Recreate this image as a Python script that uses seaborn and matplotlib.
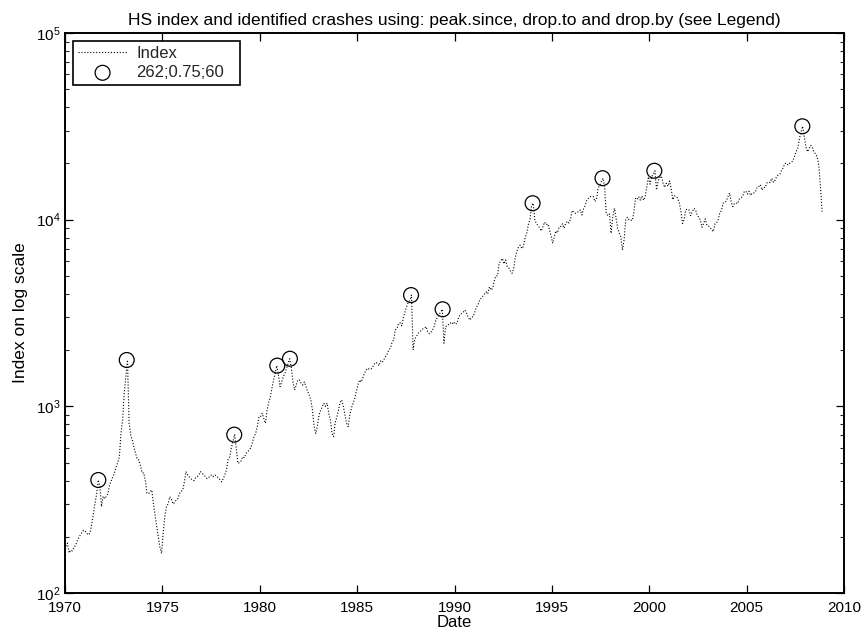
import numpy as np
import pandas as pd
import matplotlib
matplotlib.use("Agg")
import matplotlib.pyplot as plt
import seaborn as sns
from matplotlib.ticker import LogLocator, NullFormatter, LogFormatterSciNotation, FixedLocator

# ---------------- data ----------------
start_year = 1970  # monthly observations, Jan 1970 .. Nov 2008

index_values = [
    # 1970
    178, 185, 164, 170, 168, 175, 180, 190, 198, 205, 212, 217,
    # 1971
    214, 208, 205, 210, 235, 265, 303, 340, 403, 371, 290, 330,
    # 1972
    320, 330, 342, 380, 400, 420, 440, 475, 500, 537, 720, 843,
    # 1973
    1175, 1450, 1771, 813, 700, 660, 600, 560, 520, 515, 480, 440,
    # 1974
    440, 400, 343, 340, 350, 356, 300, 260, 227, 200, 175, 163,
    # 1975
    210, 257, 290, 300, 328, 320, 300, 305, 315, 320, 340, 350,
    # 1976
    356, 390, 447, 430, 420, 410, 403, 400, 415, 420, 430, 447,
    # 1977
    437, 430, 420, 410, 415, 425, 430, 420, 428, 420, 415, 404,
    # 1978
    394, 410, 430, 456, 520, 537, 600, 650, 705, 600, 495, 500,
    # 1979
    510, 537, 530, 560, 570, 583, 600, 640, 690, 716, 780, 880,
    # 1980
    880, 918, 860, 811, 950, 1050, 1127, 1250, 1384, 1500, 1652, 1474,
    # 1981
    1274, 1350, 1442, 1500, 1600, 1700, 1799, 1600, 1350, 1222, 1300, 1384,
    # 1982
    1384, 1330, 1300, 1350, 1274, 1200, 1150, 1082, 950, 778, 716, 784,
    # 1983
    900, 950, 995, 1038, 1000, 1040, 918, 850, 716, 688, 820, 875,
    # 1984
    950, 1050, 1082, 1000, 900, 811, 778, 900, 980, 1038, 1100, 1200,
    # 1985
    1300, 1384, 1350, 1420, 1500, 1566, 1600, 1580, 1580, 1620, 1680, 1720,
    # 1986
    1700, 1650, 1750, 1720, 1780, 1845, 1900, 2000, 2050, 2200, 2265, 2568,
    # 1987
    2600, 2785, 2800, 2700, 3000, 3200, 3420, 3600, 3700, 3945, 2005, 2303,
    # 1988
    2360, 2450, 2500, 2550, 2600, 2620, 2673, 2500, 2450, 2500, 2566, 2687,
    # 1989
    2900, 3000, 3100, 3200, 3311, 2180, 2673, 2700, 2750, 2800, 2750, 2837,
    # 1990
    2750, 2785, 3000, 3100, 3150, 3200, 3280, 3150, 3000, 2897, 3000, 3025,
    # 1991
    3200, 3400, 3500, 3715, 3800, 3900, 4000, 4100, 4000, 4375, 4200, 4297,
    # 1992
    4700, 5000, 5000, 5835, 6000, 6200, 5800, 6080, 5600, 5500, 5300, 5160,
    # 1993
    5500, 6300, 6800, 7165, 7300, 7000, 7200, 8000, 8450, 9400, 10000, 11888,
    # 1994
    12250, 9950, 9500, 9300, 9000, 8700, 9200, 9700, 9400, 9500, 8810, 8191,
    # 1995
    7470, 8100, 8700, 8500, 9160, 9200, 9500, 9000, 9550, 9800, 9600, 10073,
    # 1996
    11200, 11000, 10810, 11000, 11000, 11270, 10600, 11400, 11900, 12700, 13000, 13290,
    # 1997
    13290, 13300, 12500, 12900, 14800, 15200, 16000, 16680, 15000, 10810, 10500, 10723,
    # 1998
    8450, 10380, 11500, 10300, 9000, 8500, 8110, 6870, 7800, 10000, 10300, 9950,
    # 1999
    9950, 9900, 10900, 13000, 12800, 13290, 12700, 13400, 12700, 13300, 15030, 16962,
    # 2000
    15500, 17000, 17500, 18280, 14420, 16150, 16800, 17100, 15650, 14900, 15670, 15096,
    # 2001
    16100, 14700, 12800, 13400, 13290, 13040, 12300, 11100, 9550, 10000, 11280, 11397,
    # 2002
    11270, 10500, 11000, 11500, 11300, 10600, 10300, 9950, 9100, 9550, 10100, 9321,
    # 2003
    9250, 9100, 8800, 8630, 9500, 9600, 10000, 10900, 11200, 12250, 12300, 12576,
    # 2004
    13300, 13900, 12400, 11750, 12200, 12300, 12200, 12900, 13100, 13290, 14100, 14230,
    # 2005
    13700, 14200, 13500, 13900, 13900, 14200, 14900, 15030, 15400, 14400, 14900, 14876,
    # 2006
    15750, 15900, 15800, 16650, 15850, 16270, 16980, 17400, 17550, 18320, 18960, 19965,
    # 2007
    20100, 19650, 20040, 20300, 20650, 21750, 23200, 23980, 27140, 29500, 31640, 27810,
    # 2008
    24600, 23100, 24000, 25000, 24500, 23000, 22500, 21750, 19500, 15000, 11040,
]

crash_dates = [1971.71, 1973.17, 1978.69, 1980.90, 1981.55, 1987.77,
               1989.39, 1994.01, 1997.60, 2000.26, 2007.86]
crash_values = [403, 1771, 705, 1652, 1799, 3945,
                3311, 12250, 16680, 18280, 31640]

x_ticks = [1970, 1975, 1980, 1985, 1990, 1995, 2000, 2005, 2010]
series_label = "Index"
crash_label = "262;0.75;60"
title_text = "HS index and identified crashes using: peak.since, drop.to and drop.by (see Legend)"

# ---------------- frames ----------------
dates = start_year + (np.arange(len(index_values)) + 0.5) / 12.0
df = pd.DataFrame({"Date": dates, "Index": index_values})
crash_df = pd.DataFrame({"Date": crash_dates, "Index": crash_values})

# ---------------- style ----------------
sns.set_theme(style="white")
plt.rcParams["font.family"] = ["Liberation Sans", "DejaVu Sans"]
plt.rcParams["mathtext.fontset"] = "custom"
plt.rcParams["mathtext.rm"] = "Liberation Sans"
plt.rcParams["mathtext.it"] = "Liberation Sans:italic"
plt.rcParams["mathtext.bf"] = "Liberation Sans:bold"

fig = plt.figure(figsize=(8.66, 6.32), dpi=100)
ax = fig.add_axes([65 / 866, 39 / 632, 779 / 866, 560 / 632])

sns.lineplot(data=df, x="Date", y="Index", ax=ax, color="black",
             linestyle=":", linewidth=0.8, label=series_label,
             estimator=None, sort=False)
sns.scatterplot(data=crash_df, x="Date", y="Index", ax=ax, marker="o",
                s=115, facecolor="none", edgecolor="black", linewidth=0.9,
                label=crash_label, zorder=3)

ax.set_yscale("log")
ax.set_xlim(1970, 2010)
ax.set_ylim(1e2, 1e5)

ax.xaxis.set_major_locator(FixedLocator(x_ticks))
ax.set_xticklabels([str(t) for t in x_ticks])
ax.yaxis.set_major_locator(LogLocator(base=10))
ax.yaxis.set_minor_locator(LogLocator(base=10, subs=np.arange(2, 10)))
ax.yaxis.set_minor_formatter(NullFormatter())
ax.yaxis.set_major_formatter(LogFormatterSciNotation())

ax.tick_params(axis="both", which="major", direction="in", length=6,
               width=0.9, labelsize=11, top=True, right=True,
               bottom=True, left=True, colors="black", pad=3)
ax.tick_params(axis="x", which="major", pad=6)
ax.tick_params(axis="both", which="minor", direction="in", length=3,
               width=0.8, top=True, right=True, bottom=True, left=True)
ax.tick_params(axis="x", which="minor", bottom=False, top=False)

for sp in ax.spines.values():
    sp.set_color("black")
    sp.set_linewidth(1.4)

ax.set_xlabel("Date", fontsize=12, color="black", labelpad=0)
ax.set_ylabel("Index on log scale", fontsize=12.5, color="black", labelpad=6)
ax.set_title(title_text, fontsize=12.5, color="black", pad=6)

leg = ax.legend(loc="upper left",
                bbox_to_anchor=(8 / 779, 0.5, 167 / 779, 0.5 - 8 / 560),
                mode="expand", borderaxespad=0, fancybox=False, framealpha=1,
                edgecolor="black", fontsize=12, handlelength=2.95,
                handletextpad=0.55, borderpad=0.3, labelspacing=0.25,
                scatterpoints=1)
leg.get_frame().set_linewidth(1.2)

fig.savefig("out.png", dpi=100, facecolor="white")
